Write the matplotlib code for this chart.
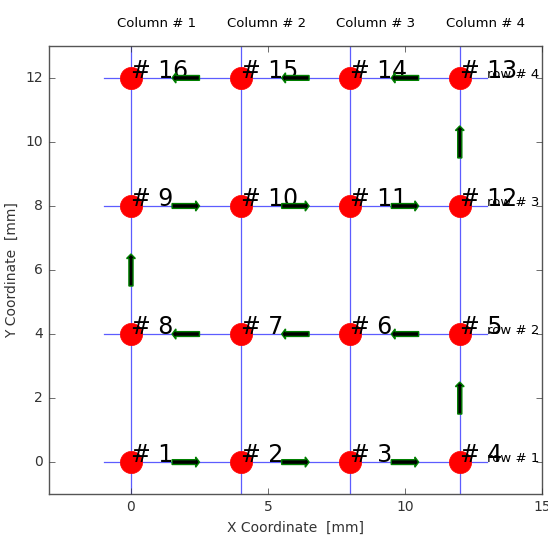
import numpy as np
import matplotlib
matplotlib.use("Agg")
import matplotlib.pyplot as plt

plt.style.use("classic")

# grid of measurement points
XCols = [0, 4, 8, 12]
YRows = [0, 4, 8, 12]
ColLabels = ["Column # 1", "Column # 2", "Column # 3", "Column # 4"]
RowLabels = ["row # 1", "row # 2", "row # 3", "row # 4"]

# serpentine order of the points (numbering 1..16)
PathX = [0, 4, 8, 12, 12, 8, 4, 0, 0, 4, 8, 12, 12, 8, 4, 0]
PathY = [0, 0, 0, 0, 4, 4, 4, 4, 8, 8, 8, 8, 12, 12, 12, 12]

fig = plt.figure(figsize=(5.48, 5.40), dpi=100, facecolor="white")
ax = fig.add_axes([0.089, 0.085, 0.900, 0.830])

for y in YRows:
    ax.plot([-1, 13], [y, y], color="#3333ff", lw=0.9, alpha=0.8, zorder=1)
for x in XCols:
    ax.plot([x, x], [-1, 13], color="#3333ff", lw=0.9, alpha=0.8, zorder=1)

ax.plot(PathX, PathY, "o", color="r", markeredgecolor="r", markersize=16, zorder=3)

for i in range(len(PathX)):
    ax.text(PathX[i], PathY[i], "# %d" % (i + 1), fontsize=17, zorder=4)

for i in range(len(PathX) - 1):
    dx = PathX[i + 1] - PathX[i]
    dy = PathY[i + 1] - PathY[i]
    ax.arrow(PathX[i] + 0.375 * dx, PathY[i] + 0.375 * dy, 0.25 * dx, 0.25 * dy,
             width=0.15, head_width=0.32, head_length=0.14,
             length_includes_head=True, fc="k", ec="g", lw=1.0, zorder=5)

for x, lab in zip(XCols, ColLabels):
    ax.text(x - 0.5, 13.6, lab, fontsize=9.5)
for y, lab in zip(YRows, RowLabels):
    ax.text(13, y, lab, fontsize=9.5)

ax.set_xlim(-3, 15)
ax.set_ylim(-1, 13)
ax.set_xticks([0, 5, 10, 15])
ax.set_yticks([0, 2, 4, 6, 8, 10, 12])
ax.tick_params(labelsize=10, colors="#333333")
for s in ax.spines.values():
    s.set_color("#555555")
ax.set_xlabel("X Coordinate  [mm]", fontsize=10, color="#333333")
ax.set_ylabel("Y Coordinate  [mm]", fontsize=10, color="#333333")

fig.savefig("out.png", dpi=100, facecolor="white")
